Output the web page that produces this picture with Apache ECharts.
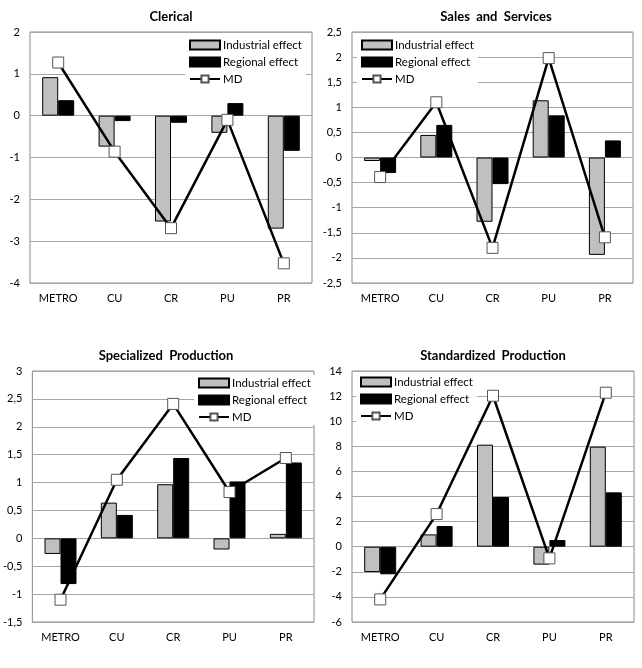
<!DOCTYPE html>
<html>
<head>
<meta charset="utf-8">
<script src="https://cdn.jsdelivr.net/npm/echarts@6/dist/echarts.min.js"></script>
<style>
html,body{margin:0;padding:0;background:#fff;}
#c{width:642px;height:668px;}
</style>
</head>
<body>
<div id="c"></div>
<script>
const categories = ['METRO', 'CU', 'CR', 'PU', 'PR'];
const seriesNames = ['Industrial effect', 'Regional effect', 'MD'];

const panelTitles = ['Clerical', 'Sales  and  Services', 'Specialized  Production', 'Standardized  Production'];

const clericalInd = [0.92, -0.74, -2.53, -0.41, -2.70];
const clericalReg = [0.37, -0.13, -0.17, 0.30, -0.84];
const clericalMD  = [1.27, -0.86, -2.69, -0.10, -3.53];

const salesInd = [-0.07, 0.45, -1.28, 1.14, -1.94];
const salesReg = [-0.31, 0.65, -0.53, 0.84, 0.34];
const salesMD  = [-0.39, 1.10, -1.80, 1.98, -1.59];

const specInd = [-0.28, 0.64, 0.97, -0.20, 0.08];
const specReg = [-0.82, 0.42, 1.44, 1.02, 1.36];
const specMD  = [-1.10, 1.05, 2.41, 0.83, 1.44];

const stdInd = [-2.02, 0.98, 8.13, -1.43, 7.97];
const stdReg = [-2.20, 1.65, 3.96, 0.53, 4.33];
const stdMD  = [-4.20, 2.60, 12.03, -0.93, 12.27];

const yMin = [-4, -2.5, -1.5, -6];
const yMax = [2, 2.5, 3, 14];
const yStep = [1, 0.5, 0.5, 2];

const panelData = [
  [clericalInd, clericalReg, clericalMD],
  [salesInd, salesReg, salesMD],
  [specInd, specReg, specMD],
  [stdInd, stdReg, stdMD]
];

const FONT = 'Lato, "Open Sans", sans-serif';
const grids = [
  {left: 30, top: 32, width: 282, height: 251},
  {left: 352, top: 32, width: 281, height: 251},
  {left: 32, top: 371, width: 282, height: 251},
  {left: 352, top: 371, width: 282, height: 251}
];
const titlePos = [
  {left: 171, top: 10},
  {left: 496, top: 10},
  {left: 166, top: 349},
  {left: 493, top: 349}
];
const legendPos = [
  {left: 185, top: 37},
  {left: 357, top: 37},
  {left: 194, top: 375},
  {left: 356, top: 374}
];

const option = {
  animation: false,
  backgroundColor: '#fff',
  textStyle: {fontFamily: FONT},
  title: panelTitles.map((t, i) => ({
    text: t,
    left: titlePos[i].left,
    top: titlePos[i].top,
    textAlign: 'center',
    padding: 0,
    textStyle: {fontFamily: FONT, fontWeight: 'bold', fontSize: 13, color: '#000'}
  })),
  grid: grids.map(g => Object.assign({show: true, borderColor: '#888', borderWidth: 1, backgroundColor: 'transparent'}, g)),
  legend: legendPos.map(p => ({
    data: [
      {name: seriesNames[0], icon: 'rect'},
      {name: seriesNames[1], icon: 'rect'},
      {name: seriesNames[2]}
    ],
    orient: 'vertical',
    left: p.left,
    top: p.top,
    itemWidth: 30,
    itemHeight: 9,
    itemGap: 5,
    padding: [2, 4, 2, 4],
    backgroundColor: '#fff',
    selectedMode: false,
    textStyle: {fontFamily: FONT, fontSize: 11.5, color: '#000', padding: [0, 0, 0, -2]}
  })),
  xAxis: grids.map((g, i) => ({
    type: 'category',
    gridIndex: i,
    data: categories,
    axisLine: {show: false},
    axisTick: {show: false},
    axisLabel: {fontFamily: FONT, fontSize: 11, color: '#000', margin: 10},
    splitLine: {show: false}
  })),
  yAxis: grids.map((g, i) => ({
    type: 'value',
    gridIndex: i,
    min: yMin[i],
    max: yMax[i],
    interval: yStep[i],
    axisLine: {show: false},
    axisTick: {show: false},
    axisLabel: {
      fontFamily: FONT, fontSize: 11, color: '#000', margin: 10,
      formatter: v => String(v).replace('.', ',')
    },
    splitLine: {show: true, lineStyle: {color: '#a6a6a6', width: 1}}
  })),
  series: []
};

panelData.forEach((d, i) => {
  option.series.push({
    name: seriesNames[0], type: 'bar', xAxisIndex: i, yAxisIndex: i,
    data: d[0], barWidth: 16, barGap: '0%',
    itemStyle: {color: '#c0c0c0', borderColor: '#000', borderWidth: 1},
    z: 2
  });
  option.series.push({
    name: seriesNames[1], type: 'bar', xAxisIndex: i, yAxisIndex: i,
    data: d[1], barWidth: 16, barGap: '0%',
    itemStyle: {color: '#000', borderColor: '#000', borderWidth: 1},
    z: 2
  });
  option.series.push({
    name: seriesNames[2], type: 'line', xAxisIndex: i, yAxisIndex: i,
    data: d[2], symbol: 'rect', symbolSize: 11, showAllSymbol: true,
    lineStyle: {color: '#000', width: 2.5},
    itemStyle: {color: '#fff', borderColor: '#555', borderWidth: 1},
    z: 5
  });
});

const chart = echarts.init(document.getElementById('c'), null, {renderer: 'canvas'});
chart.setOption(option);
</script>
</body>
</html>
